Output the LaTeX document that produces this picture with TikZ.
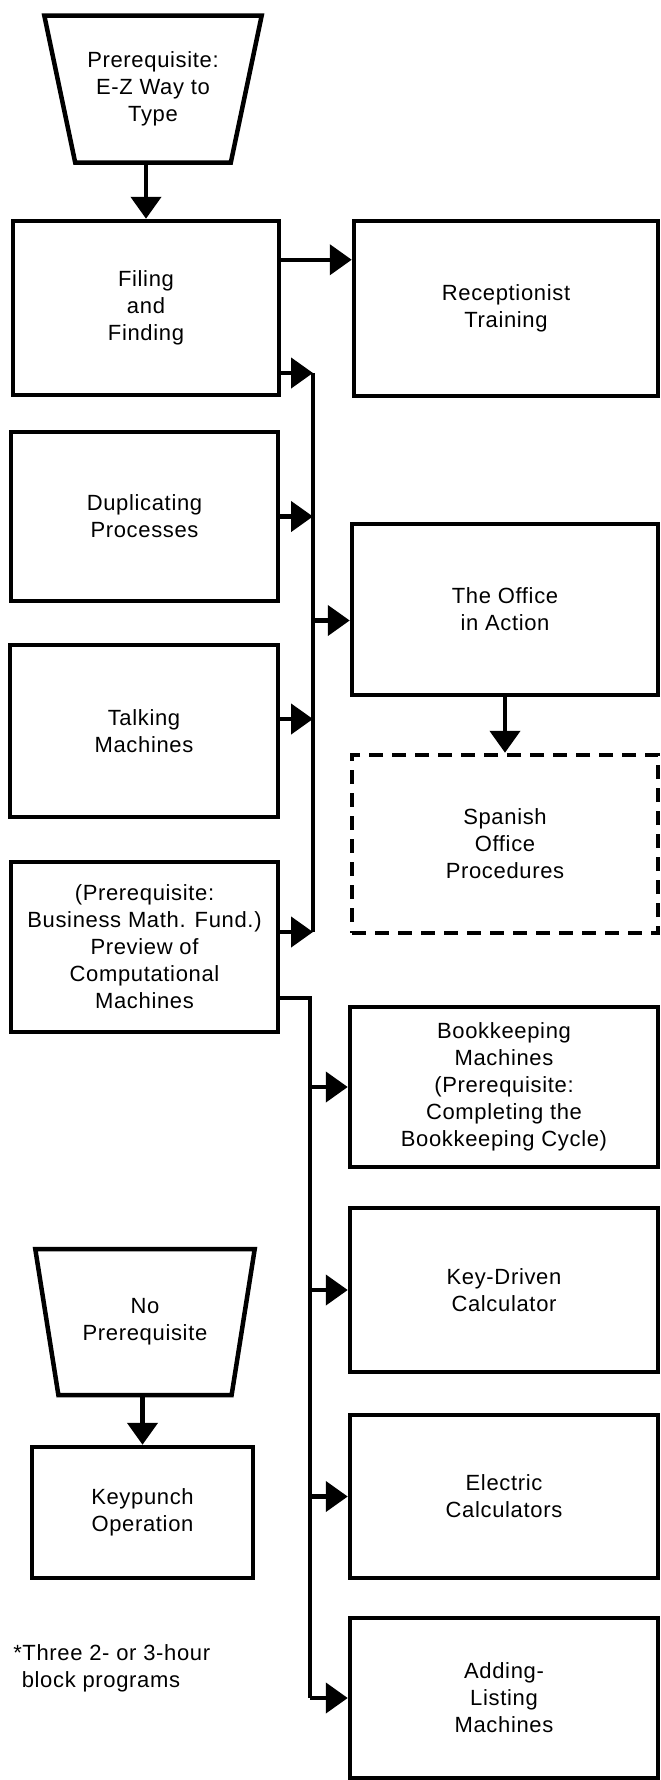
\documentclass[tikz,border=0pt]{standalone}
\usepackage{fontspec}
\setmainfont[LetterSpace=3]{Liberation Sans}
\usetikzlibrary{arrows.meta,shapes.geometric}

\begin{document}
\begin{tikzpicture}[x=1pt, y=-1pt, line width=4.5pt,
	every node/.style={font=\fontsize{22}{27}\selectfont, align=center},
	course/.style={draw, rectangle, inner sep=0pt},
	optcourse/.style={course, dash pattern=on 14pt off 9pt},
	prereq/.style={draw, trapezium, trapezium angle=70.7, trapezium stretches=true, shape border rotate=180, inner sep=0pt},
	flow/.style={-{Triangle[length=22pt,width=30pt]}}]
		\useasboundingbox (0,0) rectangle (661,1780);
		\node[prereq, minimum width=218pt, minimum height=147pt] (prereqA) at (153,89) {Prerequisite:\\E-Z Way to\\Type};
		\node[course, minimum width=266pt, minimum height=174pt] (filing) at (146,308) {Filing\\and\\Finding};
		\node[course, minimum width=304pt, minimum height=175pt] (recept) at (506,308.5) {Receptionist\\Training};
		\node[course, minimum width=267pt, minimum height=169pt] (dup) at (144.5,516.5) {Duplicating\\Processes};
		\node[course, minimum width=306pt, minimum height=171pt] (office) at (505,609.5) {The Office\\in Action};
		\node[course, minimum width=268pt, minimum height=172pt] (talking) at (144,731) {Talking\\Machines};
		\node[optcourse, minimum width=306pt, minimum height=178pt] (spanish) at (505,844) {Spanish\\Office\\Procedures};
		\node[course, minimum width=267pt, minimum height=170pt] (preview) at (144.5,947) {(Prerequisite:\\Business Math. Fund.)\\Preview of\\Computational\\Machines};
		\node[course, minimum width=308pt, minimum height=160pt] (bookkeep) at (504,1087) {Bookkeeping\\Machines\\(Prerequisite:\\Completing the\\Bookkeeping Cycle)};
		\node[course, minimum width=308pt, minimum height=164pt] (keydriven) at (504,1290) {Key-Driven\\Calculator};
		\node[course, minimum width=308pt, minimum height=163pt] (electric) at (504,1496.5) {Electric\\Calculators};
		\node[course, minimum width=308pt, minimum height=160pt] (adding) at (504,1698) {Adding-\\Listing\\Machines};
		\node[prereq, trapezium angle=70.4, minimum width=220pt, minimum height=146pt] (prereqB) at (145,1322) {No\\Prerequisite};
		\node[course, minimum width=221pt, minimum height=131pt] (keypunch) at (142.5,1512.5) {Keypunch\\Operation};
		\node[anchor=west, align=left, inner sep=0pt] (note) at (11,1668) {*Three 2- or 3-hour\\\phantom{*}block programs};
		\coordinate (busAtop) at (313,373);
		\coordinate (busAbot) at (313,932);
		\coordinate (busBtop) at (310,998);
		\coordinate (busBbot) at (310,1698);
		\draw[flow] (prereqA.south -| filing.north) -- (filing.north);
		\draw[flow] ([yshift=-41pt]filing.north east) -- ([yshift=-41pt]filing.north east -| recept.west);
		\draw (busAtop) -- (busAbot);
		\draw[flow] (filing.east |- busAtop) -- (busAtop);
		\draw[flow] (dup.east) -- (dup.east -| busAtop);
		\draw[flow] ([yshift=12pt]talking.east) -- ([yshift=12pt]talking.east -| busAtop);
		\draw[flow] (preview.east |- busAbot) -- (busAbot);
		\draw[flow] ([yshift=-11pt]office.west -| busAtop) -- ([yshift=-11pt]office.west);
		\draw[flow] (office.south) -- (spanish.north);
		\draw (preview.east |- busBtop) -- (busBtop) -- (busBbot);
		\draw[flow] (bookkeep.west -| busBtop) -- (bookkeep.west);
		\draw[flow] (keydriven.west -| busBtop) -- (keydriven.west);
		\draw[flow] (electric.west -| busBtop) -- (electric.west);
		\draw[flow] (busBbot) -- (adding.west);
		\draw[flow] (prereqB.south -| keypunch.north) -- (keypunch.north);
\end{tikzpicture}
\end{document}
